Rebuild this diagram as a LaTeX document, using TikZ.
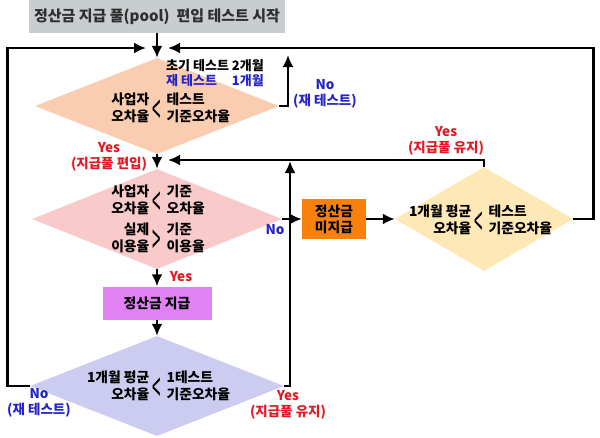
\documentclass[tikz,border=0pt]{standalone}
\usepackage{fontspec}
\setmainfont{Noto Sans CJK KR}
\usepackage{graphicx}
\usetikzlibrary{arrows.meta,shapes.geometric}
\usetikzlibrary{positioning}
\definecolor{titlegray}{RGB}{200,206,208}
\definecolor{peach}{RGB}{250,205,176}
\definecolor{pinkfill}{RGB}{249,202,202}
\definecolor{yellowfill}{RGB}{254,232,182}
\definecolor{lavender}{RGB}{204,204,240}
\definecolor{orangefill}{RGB}{250,128,12}
\definecolor{payfill}{RGB}{224,130,244}
\definecolor{yescol}{RGB}{228,24,36}
\definecolor{nocol}{RGB}{36,36,200}
\tikzstyle{startbox} = [rectangle, fill=titlegray, minimum width=256pt, minimum height=33pt, inner sep=0pt, text=black!82, font=\fontsize{15}{17}\selectfont\bfseries]
\tikzstyle{decision} = [diamond, inner sep=0pt, draw=none]
\tikzstyle{process} = [rectangle, inner sep=0pt, text centered, font=\fontsize{13.8}{16}\selectfont\bfseries]
\tikzstyle{txt} = [inner sep=0pt, font=\fontsize{13.8}{16.5}\selectfont\bfseries]
\tikzstyle{yeslabel} = [txt, text=yescol, align=center, font=\fontsize{13.5}{15.5}\selectfont\bfseries]
\tikzstyle{nolabel} = [txt, text=nocol, align=center, font=\fontsize{13.5}{15.5}\selectfont\bfseries]
\tikzstyle{flow} = [line width=2.8pt, -{Latex[length=12pt,width=11pt]}]
\newcommand{\lessbig}{\raisebox{-16.5pt}[12pt][12pt]{\scalebox{1.1}[3.0]{\mdseries <}}}
\newcommand{\morebig}{\raisebox{-16.5pt}[12pt][12pt]{\scalebox{1.1}[3.0]{\mdseries >}}}

\begin{document}
\begin{tikzpicture}[x=1pt,y=-1pt]
\useasboundingbox (0,0) rectangle (600,437);

\node (start) [startbox] at (157,16.5) {정산금 지급 풀(pool)\ \ 편입 테스트 시작};
\node (test) [decision, fill=peach, minimum width=244pt, minimum height=96pt] at (157,106) {};
\node (check) [decision, fill=pinkfill, minimum width=250pt, minimum height=100pt] at (157,219) {};
\node (pay) [process, fill=payfill, minimum width=109pt, minimum height=33pt] at (157,303) {정산금 지급};
\node (keep) [decision, fill=lavender, minimum width=254pt, minimum height=100pt] at (157,386) {};
\node (nopay) [process, fill=orangefill, minimum width=64pt, minimum height=40pt, align=center] at (334,219) {정산금\\미지급};
\node (retest) [decision, fill=yellowfill, minimum width=178pt, minimum height=104pt] at (484,219) {};

% test
\node (lt1) [txt] at (157,108) {\lessbig};
\node [txt, align=right, left=3pt of lt1] {사업자\\오차율};
\node [txt, align=left, right=5pt of lt1] {테스트\\기준오차율};
\node (period) [anchor=west, inner sep=0pt, font=\fontsize{13}{14.5}\selectfont\bfseries] at (166,75) {\begin{tabular}{@{}l@{\ }r@{}}초기 테스트 & 2개월\\ \color{nocol}재 테스트 & \color{nocol}1개월\end{tabular}};

% check
\node (lt2) [txt] at (157,200) {\lessbig};
\node [txt, align=right, left=3pt of lt2] {사업자\\오차율};
\node [txt, align=left, right=5pt of lt2] {기준\\오차율};
\node (gt2) [txt] at (157,238) {\morebig};
\node [txt, align=right, left=3pt of gt2] {실제\\이용율};
\node [txt, align=left, right=5pt of gt2] {기준\\이용율};

% retest
\node (lt3) [txt] at (479,220) {\lessbig};
\node [txt, align=right, left=3pt of lt3] {1개월 평균\\오차율};
\node [txt, align=left, right=5pt of lt3] {테스트\\기준오차율};

% keep
\node (lt4) [txt] at (157,386) {\lessbig};
\node [txt, align=right, left=3pt of lt4] {1개월 평균\\오차율};
\node [txt, align=left, right=5pt of lt4] {1테스트\\기준오차율};

\coordinate (inL) at (146,48);
\coordinate (inR) at (168,48);
\coordinate (in2) at (168,160);
\coordinate (up1) at (288,55);
\coordinate (up2) at (290,161);

\draw[flow] (start) -- (test);
\draw[flow] (test) -- (check);
\draw[flow] (check) -- (pay);
\draw[flow] (pay) -- (keep);
\draw[flow] (check) -- (nopay);
\draw[flow] (nopay) -- (retest);
\draw[flow] (test.east) -| (up1);
\draw[flow] (retest.east) -- ++(20,0) |- (inR);
\draw[flow] (retest.north) |- (in2);
\draw[flow] (keep.west) -- ++(-22,0) |- (inL);
\draw[flow] (keep.east) -| (up2);

\node [nolabel] at (325,94) {No\\(재 테스트)};
\node [yeslabel] at (109,157) {Yes\\(지급풀 편입)};
\node [yeslabel] at (446,141) {Yes\\(지급풀 유지)};
\node [nolabel] at (275,230) {No};
\node [yeslabel] at (181,277) {Yes};
\node [nolabel] at (39,403) {No\\(재 테스트)};
\node [yeslabel] at (288,405) {Yes\\(지급풀 유지)};
\end{tikzpicture}
\end{document}
